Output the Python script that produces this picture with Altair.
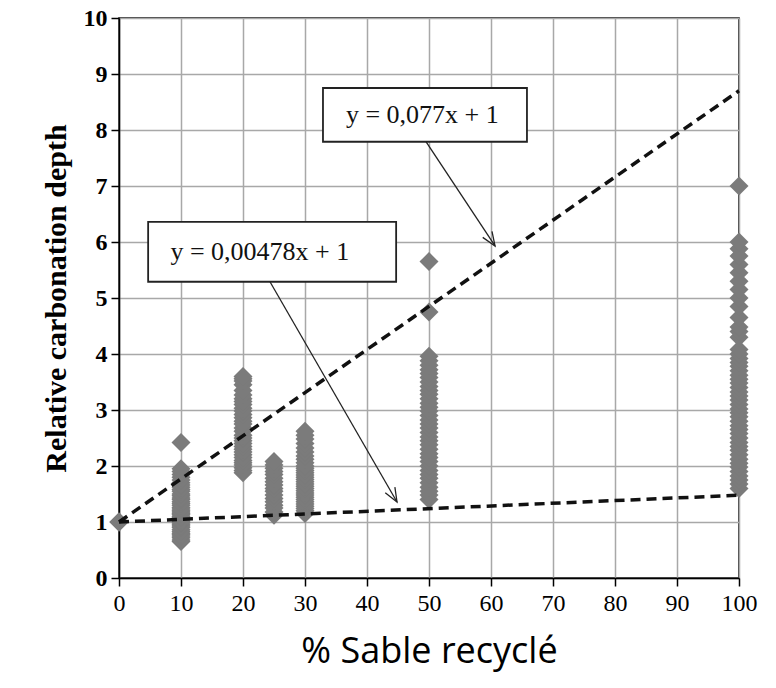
import altair as alt
import pandas as pd
import math

# ---- axis ticks
x_ticks = list(range(0, 101, 10))
y_ticks = list(range(0, 11))

# ---- measured relative carbonation depth per % recycled sand
sand_0 = [1.0, 1.0, 1.0]
sand_10 = [0.65, 0.68, 0.72, 0.75, 0.78, 0.8, 0.83, 0.86, 0.9, 0.93, 0.95, 0.98, 1.0,
           1.02, 1.05, 1.08, 1.1, 1.13, 1.15, 1.18, 1.2, 1.23, 1.26, 1.3, 1.33, 1.36,
           1.4, 1.43, 1.47, 1.5, 1.55, 1.58, 1.62, 1.66, 1.7, 1.75, 1.8, 1.85, 1.9,
           1.95, 2.42]
sand_20 = [1.88, 1.92, 1.97, 2.02, 2.06, 2.1, 2.15, 2.2, 2.25, 2.3, 2.35, 2.4, 2.45,
           2.5, 2.55, 2.62, 2.68, 2.75, 2.8, 2.86, 2.92, 2.98, 3.03, 3.1, 3.15, 3.2,
           3.27, 3.35, 3.45, 3.52, 3.56, 3.6]
sand_25 = [1.12, 1.18, 1.25, 1.3, 1.36, 1.42, 1.48, 1.55, 1.6, 1.66, 1.72, 1.78, 1.85,
           1.9, 1.96, 2.02, 2.08]
sand_30 = [1.15, 1.2, 1.24, 1.28, 1.32, 1.36, 1.4, 1.44, 1.48, 1.52, 1.56, 1.6, 1.64,
           1.68, 1.72, 1.76, 1.8, 1.84, 1.88, 1.92, 1.96, 2.0, 2.06, 2.12, 2.18, 2.25,
           2.32, 2.4, 2.48, 2.55, 2.62]
sand_50 = [1.4, 1.48, 1.55, 1.62, 1.7, 1.78, 1.85, 1.92, 2.0, 2.08, 2.15, 2.22, 2.3,
           2.38, 2.45, 2.52, 2.6, 2.68, 2.75, 2.82, 2.9, 2.98, 3.05, 3.12, 3.2, 3.28,
           3.35, 3.42, 3.5, 3.58, 3.65, 3.72, 3.8, 3.88, 3.96, 4.75, 5.65]
sand_100 = [1.6, 1.68, 1.75, 1.82, 1.9, 1.98, 2.05, 2.12, 2.2, 2.28, 2.35, 2.42, 2.5,
            2.58, 2.65, 2.72, 2.8, 2.88, 2.95, 3.02, 3.1, 3.18, 3.25, 3.32, 3.4, 3.48,
            3.55, 3.62, 3.7, 3.78, 3.85, 3.92, 4.0, 4.08, 4.3, 4.4, 4.48, 4.65, 4.85,
            5.0, 5.15, 5.3, 5.45, 5.6, 5.75, 5.88, 6.0, 7.0]

groups = {0: sand_0, 10: sand_10, 20: sand_20, 25: sand_25, 30: sand_30,
          50: sand_50, 100: sand_100}

# ---- trend lines (y = 0,077x + 1 and y = 0,00478x + 1)
trend_x = [0, 100]
trend_upper = [1.0, 8.7]
trend_lower = [1.0, 1.478]

# ---- annotation boxes, labels and arrows (data coordinates)
box_labels = ["y = 0,077x + 1", "y = 0,00478x + 1"]
box_x1 = [32.9, 4.7]
box_x2 = [65.8, 44.7]
box_y1 = [7.79, 5.29]
box_y2 = [8.75, 6.36]
label_x = [36.6, 8.3]
label_y = [8.27, 5.82]
arrow_from_x = [49.35, 24.35]
arrow_from_y = [7.82, 5.29]
arrow_to_x = [60.65, 44.84]
arrow_to_y = [5.93, 1.357]

# ---- build tables
pts = pd.DataFrame([{"x": k, "y": v} for k, vals in groups.items() for v in vals])
trend = pd.DataFrame({
    "x": trend_x + trend_x,
    "y": trend_upper + trend_lower,
    "line": ["upper"] * 2 + ["lower"] * 2,
})
boxes = pd.DataFrame({"x": box_x1, "x2": box_x2, "y": box_y1, "y2": box_y2})
labels = pd.DataFrame({"x": label_x, "y": label_y, "label": box_labels})
arrow_lines = pd.DataFrame({
    "x": arrow_from_x + arrow_to_x,
    "y": arrow_from_y + arrow_to_y,
    "id": [0, 1, 0, 1],
    "o": [0, 0, 1, 1],
})
W, H = 620, 560
px_x, px_y = W / 100.0, H / 10.0
angles = []
for fx, fy, tx, ty in zip(arrow_from_x, arrow_from_y, arrow_to_x, arrow_to_y):
    dx = (tx - fx) * px_x
    dy = -(ty - fy) * px_y
    angles.append(math.degrees(math.atan2(dx, -dy)) % 360)
heads = pd.DataFrame({"x": arrow_to_x, "y": arrow_to_y, "angle": angles})

xs = alt.Scale(domain=[0, 100], nice=False)
ys = alt.Scale(domain=[0, 10], nice=False)
SERIF = "Liberation Serif"

x_axis = alt.Axis(values=x_ticks, labelFont=SERIF, labelFontSize=24, labelColor="black",
                  tickColor="black", tickSize=8, tickWidth=1.5, labelPadding=5,
                  domainColor="black", domainWidth=1.5, gridColor="#a8a8a8", gridWidth=1.5,
                  title="% Sable recyclé", titleFont="Open Sans", titleFontSize=36,
                  titleFontWeight="normal", titleColor="black", titlePadding=19,
                  labelFlush=False)
y_axis = alt.Axis(values=y_ticks, labelFont=SERIF, labelFontSize=24, labelFontWeight="bold",
                  labelColor="black", tickColor="black", tickSize=8, tickWidth=1.5,
                  labelPadding=4, domainColor="black", domainWidth=1.5,
                  gridColor="#a8a8a8", gridWidth=1.5,
                  title="Relative carbonation depth", titleFont=SERIF, titleFontSize=30,
                  titleFontWeight="bold", titleColor="black", titlePadding=12,
                  labelFlush=False)


def X(field="x:Q"):
    return alt.X(field, scale=xs, axis=x_axis)


def Y(field="y:Q"):
    return alt.Y(field, scale=ys, axis=y_axis)


points = alt.Chart(pts).mark_point(shape="diamond", filled=True, color="#7b7b7b",
                                   opacity=1, size=360).encode(x=X(), y=Y())

lines = alt.Chart(trend).mark_line(color="#111111", strokeWidth=3.5,
                                   strokeDash=[10, 6]).encode(
    x=X(), y=Y(), detail="line:N")

arrows = alt.Chart(arrow_lines).mark_line(color="#222222", strokeWidth=1.3).encode(
    x=X(), y=Y(), detail="id:N", order="o:Q")

arrowheads = alt.Chart(heads).mark_point(
    shape="M -0.42 1.05 L 0 0 L 0.42 1.05", filled=False, stroke="#222222",
    strokeWidth=1.3, opacity=1, size=700).encode(
    x=X(), y=Y(), angle=alt.Angle("angle:Q", scale=None))

rects = alt.Chart(boxes).mark_rect(fill="white", stroke="#222222", strokeWidth=1.8).encode(
    x=X(), x2="x2:Q", y=Y(), y2="y2:Q")

texts = alt.Chart(labels).mark_text(font=SERIF, fontSize=26, color="#111111",
                                    align="left", baseline="middle").encode(
    x=X(), y=Y(), text="label:N")

chart = alt.layer(points, lines, arrows, arrowheads, rects, texts).properties(
    width=W, height=H,
    autosize=alt.AutoSizeParams(type="none"),
    padding={"left": 119, "top": 18, "right": 37, "bottom": 110},
    background="white",
).configure_view(stroke="black", strokeWidth=1.5)

chart.save("out.html", embed_options={"renderer": "svg", "actions": False})
